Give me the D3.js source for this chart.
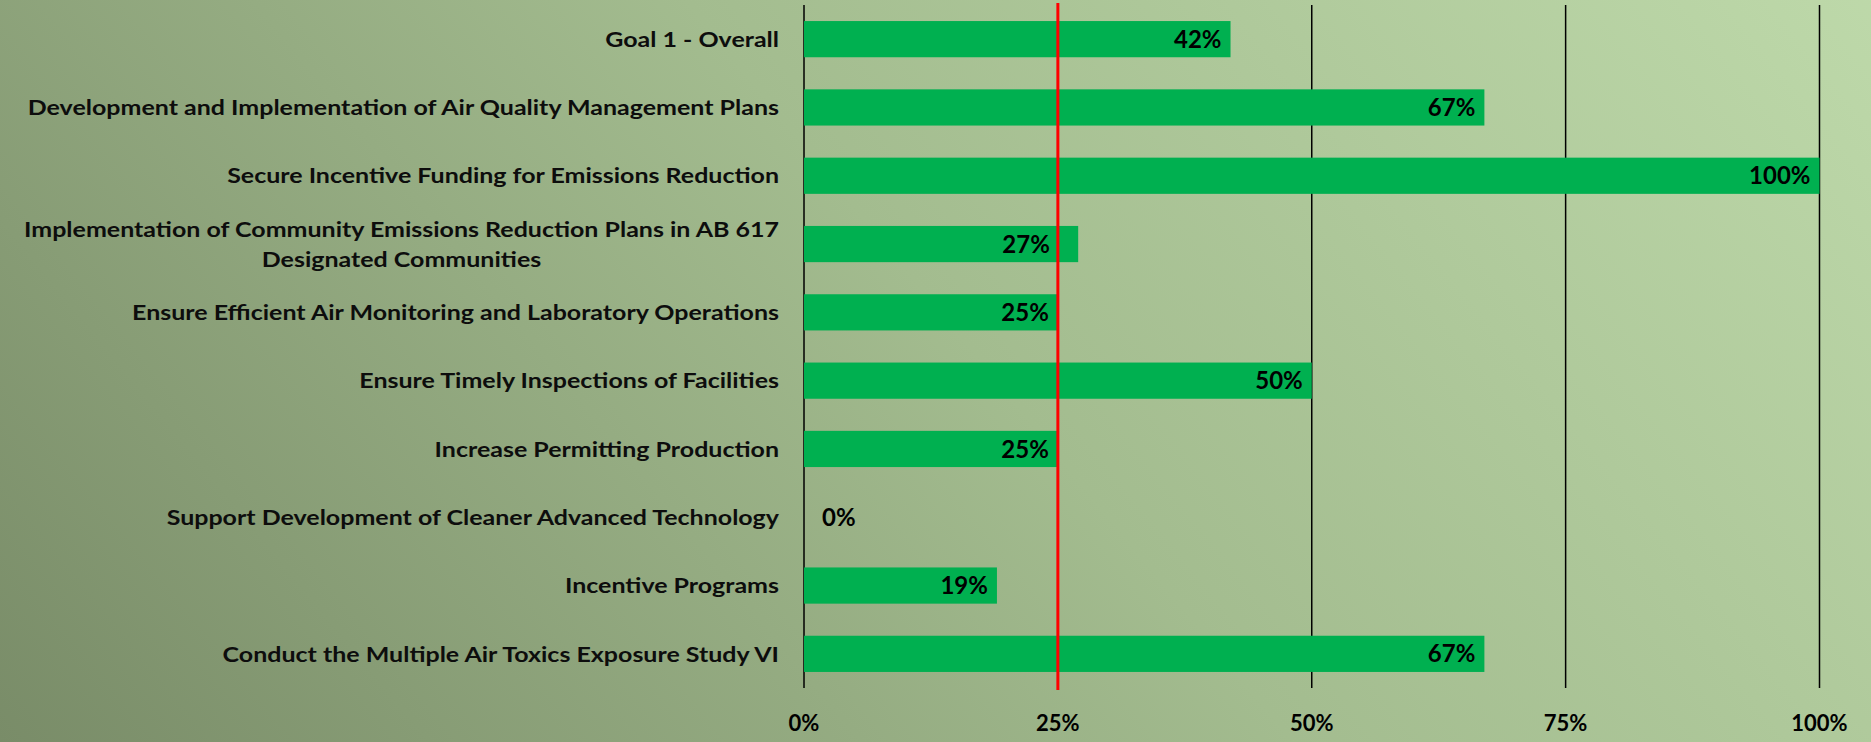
<!DOCTYPE html>
<html>
<head>
<meta charset="utf-8">
<script src="https://cdn.jsdelivr.net/npm/d3@7/dist/d3.min.js"></script>
<style>
  html, body { margin: 0; padding: 0; overflow: hidden; }
  svg { display: block; }
  text { font-family: Lato, "Open Sans", sans-serif; font-weight: 700; fill: #000; }
</style>
</head>
<body>
<svg id="chart" width="1871" height="742"></svg>
<script>
const categories = [
  "Goal 1 - Overall",
  "Development and Implementation of Air Quality Management Plans",
  "Secure Incentive Funding for Emissions Reduction",
  "Implementation of Community Emissions Reduction Plans in AB 617|Designated Communities",
  "Ensure Efficient Air Monitoring and Laboratory Operations",
  "Ensure Timely Inspections of Facilities",
  "Increase Permitting Production",
  "Support Development of Cleaner Advanced Technology",
  "Incentive Programs",
  "Conduct the Multiple Air Toxics Exposure Study VI"
];
const values = [0.42, 0.67, 1.00, 0.27, 0.25, 0.50, 0.25, 0.00, 0.19, 0.67];
const tickValues = [0, 0.25, 0.5, 0.75, 1];
const tickLabels = ["0%", "25%", "50%", "75%", "100%"];
const targetLine = 0.25;

const W = 1871, H = 742;
const margin = { top: 5, right: 51.5, bottom: 54, left: 804 };

const svg = d3.select("#chart");

// background gradient
const defs = svg.append("defs");
const grad = defs.append("linearGradient")
  .attr("id", "bg").attr("gradientUnits", "userSpaceOnUse")
  .attr("x1", 0).attr("y1", H).attr("x2", W * 0.92).attr("y2", -H * 0.9);
grad.append("stop").attr("offset", "0%").attr("stop-color", "#798c68");
grad.append("stop").attr("offset", "45%").attr("stop-color", "#a3bc8f");
grad.append("stop").attr("offset", "100%").attr("stop-color", "#c6e2b2");
svg.append("rect").attr("width", W).attr("height", H).attr("fill", "url(#bg)");

const x = d3.scaleLinear().domain([0, 1]).range([margin.left, W - margin.right]);
const y = d3.scaleBand().domain(categories).range([margin.top, H - margin.bottom])
  .paddingInner(0.47).paddingOuter(0.235);

// gridlines
const grid = svg.append("g");
grid.selectAll("line").data(tickValues).join("line")
  .attr("x1", d => x(d)).attr("x2", d => x(d))
  .attr("y1", margin.top).attr("y2", H - margin.bottom)
  .attr("stroke", "#000").attr("stroke-width", 1.5);

// bars
svg.append("g").selectAll("rect").data(values).join("rect")
  .attr("x", x(0))
  .attr("y", (d, i) => y(categories[i]))
  .attr("width", d => x(d) - x(0))
  .attr("height", y.bandwidth())
  .attr("fill", "#00b050");

// target line
svg.append("line")
  .attr("x1", x(targetLine)).attr("x2", x(targetLine))
  .attr("y1", margin.top - 2).attr("y2", H - margin.bottom + 2)
  .attr("stroke", "#ff0000").attr("stroke-width", 3);

// value labels (inside end; kept clear of the target line; outside for empty bars)
const fmt = d3.format(".0%");
const valG = svg.append("g");
values.forEach((d, i) => {
  const t = valG.append("text")
    .attr("y", y(categories[i]) + y.bandwidth() / 2)
    .attr("dy", "0.36em")
    .style("font-size", "24px")
    .text(fmt(d));
  const w = t.node().getComputedTextLength();
  if (d <= 0.05) {
    t.attr("x", x(d) + 18).attr("text-anchor", "start");
  } else {
    let end = x(d) - 9;
    const xt = x(targetLine);
    if (end > xt && end - w < xt) end = xt - 8;
    t.attr("x", end).attr("text-anchor", "end");
  }
});

// category labels (stretched horizontally to the reference's Calibri widths)
const labelX = x(0) - 25;
const catFont = 21.5;
const longestTarget = labelX - 24;
const catG = svg.append("g");
const allLines = [];
categories.forEach((c, i) => {
  const lines = c.split("|");
  const cy = y(c) + y.bandwidth() / 2;
  const lh = 30;
  lines.forEach((ln, k) => {
    const t = catG.append("text")
      .attr("y", cy - (lines.length - 1) * lh / 2 + k * lh)
      .attr("dy", "0.36em")
      .style("font-size", catFont + "px")
      .style("fill", "#0d0d0d")
      .text(ln);
    allLines.push({ t, k, group: i, w: t.node().getComputedTextLength() });
  });
});
const maxW = d3.max(allLines, d => d.w);
const sx = longestTarget / maxW;
const firstW = {};
allLines.forEach(d => { if (d.k === 0) firstW[d.group] = d.w * sx; });
allLines.forEach(d => {
  const tw = d.w * sx;
  d.t.attr("textLength", tw).attr("lengthAdjust", "spacingAndGlyphs");
  if (d.k === 0) {
    d.t.attr("x", labelX).attr("text-anchor", "end");
  } else {
    d.t.attr("x", labelX - firstW[d.group] / 2).attr("text-anchor", "middle");
  }
});

// x tick labels
svg.append("g").selectAll("text").data(tickValues).join("text")
  .attr("x", d => x(d))
  .attr("y", H - margin.bottom + 35)
  .attr("dy", "0.36em")
  .attr("text-anchor", "middle")
  .style("font-size", "22px")
  .text((d, i) => tickLabels[i]);
</script>
</body>
</html>
